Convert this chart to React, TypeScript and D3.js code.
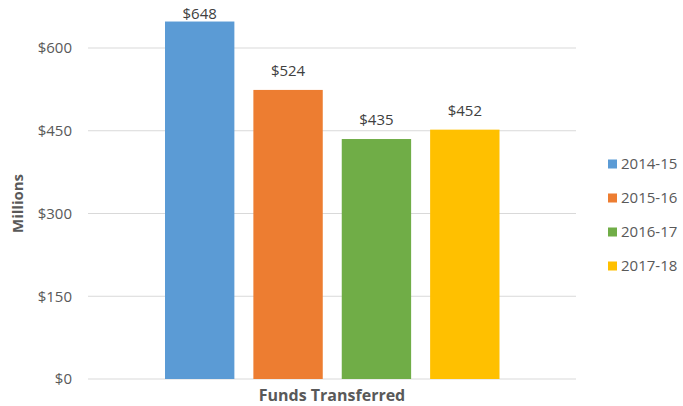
import React from "react";
import * as d3 from "d3";

const seriesNames = ["2014-15", "2015-16", "2016-17", "2017-18"];
const values = [648, 524, 435, 452];
const colors = ["#5B9BD5", "#ED7D31", "#70AD47", "#FFC000"];
const yTicks = [0, 150, 300, 450, 600];
const category = "Funds Transferred";
const yTitle = "Millions";

const W = 683;
const H = 406;
const FONT = "'Open Sans', Lato, sans-serif";

export default function App() {
  const plotLeft = 88;
  const plotRight = 576;
  const y = d3.scaleLinear().domain([0, 600]).range([379, 48]);
  const x = d3
    .scaleBand<string>()
    .domain(seriesNames)
    .range([165, 499.5])
    .paddingInner(0.215)
    .paddingOuter(0);

  return (
    <div style={{ position: "absolute", left: 0, top: 0 }}>
      <svg width={W} height={H} style={{ display: "block", background: "#fff" }}>
        {yTicks.map((t) => (
          <g key={t}>
            <line
              x1={plotLeft}
              x2={plotRight}
              y1={y(t)}
              y2={y(t)}
              stroke="#D9D9D9"
              strokeWidth={1}
            />
            <text
              x={72}
              y={y(t)}
              dy="0.36em"
              textAnchor="end"
              fontFamily={FONT}
              fontSize={15}
              fill="#595959"
            >
              ${t}
            </text>
          </g>
        ))}
        {seriesNames.map((s, i) => (
          <g key={s}>
            <rect
              x={x(s)}
              y={y(values[i])}
              width={x.bandwidth()}
              height={y(0) - y(values[i])}
              fill={colors[i]}
            />
            <text
              x={(x(s) as number) + x.bandwidth() / 2}
              y={Math.max(y(values[i]) - 14, 19)}
              textAnchor="middle"
              fontFamily={FONT}
              fontSize={15}
              fill="#404040"
            >
              ${values[i]}
            </text>
          </g>
        ))}
        <text
          x={(plotLeft + plotRight) / 2}
          y={401}
          textAnchor="middle"
          fontFamily={FONT}
          fontSize={16}
          fontWeight="bold"
          fill="#595959"
        >
          {category}
        </text>
        <text
          transform={`translate(23, 233) rotate(-90)`}
          textAnchor="start"
          fontFamily={FONT}
          fontSize={15}
          fontWeight="bold"
          fill="#595959"
        >
          {yTitle}
        </text>
        {seriesNames.map((s, i) => {
          const cy = 164 + i * 34;
          return (
            <g key={"lg" + s}>
              <rect x={608} y={cy - 4.5} width={9} height={9} fill={colors[i]} />
              <text
                x={621}
                y={cy}
                dy="0.36em"
                fontFamily={FONT}
                fontSize={15}
                fill="#595959"
              >
                {s}
              </text>
            </g>
          );
        })}
      </svg>
    </div>
  );
}
